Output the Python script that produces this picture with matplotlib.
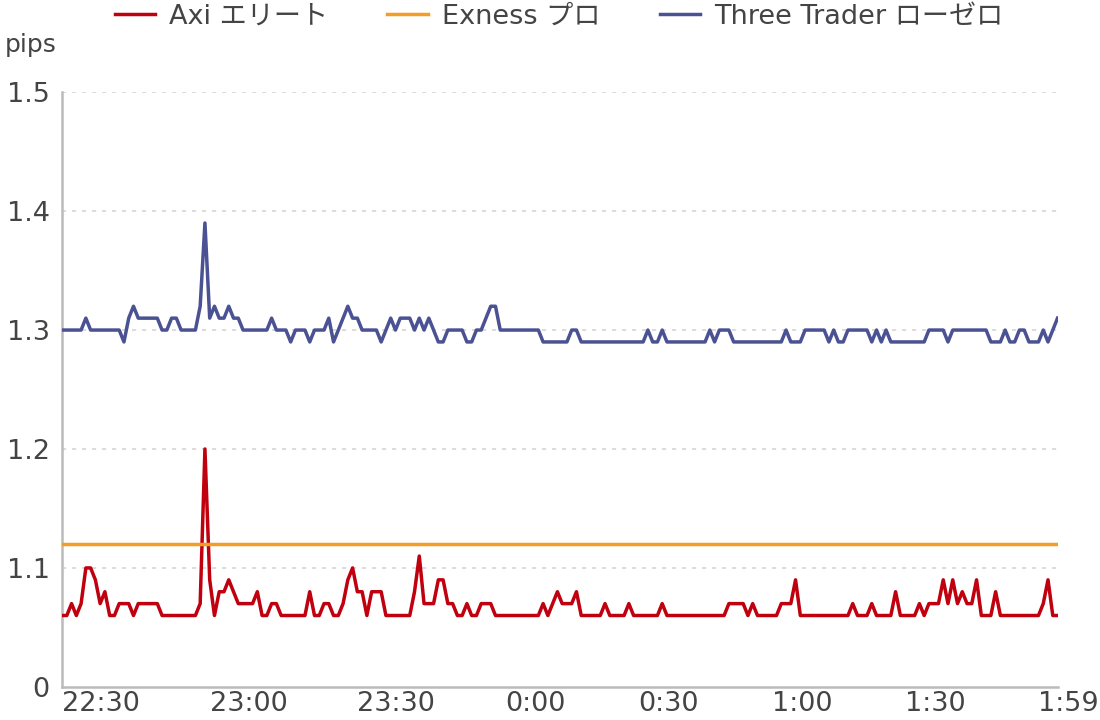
import numpy as np
import matplotlib.pyplot as plt

plt.rcParams['font.family'] = ['DejaVu Sans', 'Noto Sans CJK JP']

# one value per minute, 22:30 -> 1:59
axi = [1.06, 1.06, 1.07, 1.06, 1.07, 1.10, 1.10, 1.09, 1.07, 1.08,
       1.06, 1.06, 1.07, 1.07, 1.07, 1.06, 1.07, 1.07, 1.07, 1.07,
       1.07, 1.06, 1.06, 1.06, 1.06, 1.06, 1.06, 1.06, 1.06, 1.07,
       1.20, 1.09, 1.06, 1.08, 1.08, 1.09, 1.08, 1.07, 1.07, 1.07,
       1.07, 1.08, 1.06, 1.06, 1.07, 1.07, 1.06, 1.06, 1.06, 1.06,
       1.06, 1.06, 1.08, 1.06, 1.06, 1.07, 1.07, 1.06, 1.06, 1.07,
       1.09, 1.10, 1.08, 1.08, 1.06, 1.08, 1.08, 1.08, 1.06, 1.06,
       1.06, 1.06, 1.06, 1.06, 1.08, 1.11, 1.07, 1.07, 1.07, 1.09,
       1.09, 1.07, 1.07, 1.06, 1.06, 1.07, 1.06, 1.06, 1.07, 1.07,
       1.07, 1.06, 1.06, 1.06, 1.06, 1.06, 1.06, 1.06, 1.06, 1.06,
       1.06, 1.07, 1.06, 1.07, 1.08, 1.07, 1.07, 1.07, 1.08, 1.06,
       1.06, 1.06, 1.06, 1.06, 1.07, 1.06, 1.06, 1.06, 1.06, 1.07,
       1.06, 1.06, 1.06, 1.06, 1.06, 1.06, 1.07, 1.06, 1.06, 1.06,
       1.06, 1.06, 1.06, 1.06, 1.06, 1.06, 1.06, 1.06, 1.06, 1.06,
       1.07, 1.07, 1.07, 1.07, 1.06, 1.07, 1.06, 1.06, 1.06, 1.06,
       1.06, 1.07, 1.07, 1.07, 1.09, 1.06, 1.06, 1.06, 1.06, 1.06,
       1.06, 1.06, 1.06, 1.06, 1.06, 1.06, 1.07, 1.06, 1.06, 1.06,
       1.07, 1.06, 1.06, 1.06, 1.06, 1.08, 1.06, 1.06, 1.06, 1.06,
       1.07, 1.06, 1.07, 1.07, 1.07, 1.09, 1.07, 1.09, 1.07, 1.08,
       1.07, 1.07, 1.09, 1.06, 1.06, 1.06, 1.08, 1.06, 1.06, 1.06,
       1.06, 1.06, 1.06, 1.06, 1.06, 1.06, 1.07, 1.09, 1.06, 1.06]

three = [1.30, 1.30, 1.30, 1.30, 1.30, 1.31, 1.30, 1.30, 1.30, 1.30,
         1.30, 1.30, 1.30, 1.29, 1.31, 1.32, 1.31, 1.31, 1.31, 1.31,
         1.31, 1.30, 1.30, 1.31, 1.31, 1.30, 1.30, 1.30, 1.30, 1.32,
         1.39, 1.31, 1.32, 1.31, 1.31, 1.32, 1.31, 1.31, 1.30, 1.30,
         1.30, 1.30, 1.30, 1.30, 1.31, 1.30, 1.30, 1.30, 1.29, 1.30,
         1.30, 1.30, 1.29, 1.30, 1.30, 1.30, 1.31, 1.29, 1.30, 1.31,
         1.32, 1.31, 1.31, 1.30, 1.30, 1.30, 1.30, 1.29, 1.30, 1.31,
         1.30, 1.31, 1.31, 1.31, 1.30, 1.31, 1.30, 1.31, 1.30, 1.29,
         1.29, 1.30, 1.30, 1.30, 1.30, 1.29, 1.29, 1.30, 1.30, 1.31,
         1.32, 1.32, 1.30, 1.30, 1.30, 1.30, 1.30, 1.30, 1.30, 1.30,
         1.30, 1.29, 1.29, 1.29, 1.29, 1.29, 1.29, 1.30, 1.30, 1.29,
         1.29, 1.29, 1.29, 1.29, 1.29, 1.29, 1.29, 1.29, 1.29, 1.29,
         1.29, 1.29, 1.29, 1.30, 1.29, 1.29, 1.30, 1.29, 1.29, 1.29,
         1.29, 1.29, 1.29, 1.29, 1.29, 1.29, 1.30, 1.29, 1.30, 1.30,
         1.30, 1.29, 1.29, 1.29, 1.29, 1.29, 1.29, 1.29, 1.29, 1.29,
         1.29, 1.29, 1.30, 1.29, 1.29, 1.29, 1.30, 1.30, 1.30, 1.30,
         1.30, 1.29, 1.30, 1.29, 1.29, 1.30, 1.30, 1.30, 1.30, 1.30,
         1.29, 1.30, 1.29, 1.30, 1.29, 1.29, 1.29, 1.29, 1.29, 1.29,
         1.29, 1.29, 1.30, 1.30, 1.30, 1.30, 1.29, 1.30, 1.30, 1.30,
         1.30, 1.30, 1.30, 1.30, 1.30, 1.29, 1.29, 1.29, 1.30, 1.29,
         1.29, 1.30, 1.30, 1.29, 1.29, 1.29, 1.30, 1.29, 1.30, 1.31]

exness_value = 1.12
exness = [exness_value] * len(axi)

tick_labels = ['22:30', '23:00', '23:30', '0:00', '0:30', '1:00', '1:30', '1:59']
tick_idx = [0, 31, 62, 93, 121, 149, 177, 205]

y_ticks = [1.0, 1.1, 1.2, 1.3, 1.4, 1.5]
y_labels = ['0', '1.1', '1.2', '1.3', '1.4', '1.5']

x = np.arange(len(axi))

fig = plt.figure(figsize=(11, 7.2), dpi=100)
ax = fig.add_axes([0.0564, 0.046, 0.905, 0.826])

ax.plot(x, axi, color='#c0000f', lw=2.5, label='Axi エリート', zorder=3)
ax.plot(x, exness, color='#f39c26', lw=2.5, label='Exness プロ', zorder=3)
ax.plot(x, three, color='#4a5294', lw=2.5, label='Three Trader ローゼロ', zorder=3)

ax.set_xlim(0, len(axi) - 1)
ax.set_ylim(1.0, 1.5)
ax.set_yticks(y_ticks)
ax.set_yticklabels(y_labels)
ax.set_xticks(tick_idx)
ax.set_xticklabels(tick_labels, ha='left')
ax.tick_params(axis='both', length=0, labelsize=19.5, colors='#444444')
ax.tick_params(axis='y', pad=9)
ax.tick_params(axis='x', pad=3)

for v in y_ticks[1:]:
    ax.axhline(v, color='#d6d6d6', lw=1.2, ls=(0, (2.5, 3.5)), zorder=1)

for s in ['top', 'right']:
    ax.spines[s].set_visible(False)
for s in ['left', 'bottom']:
    ax.spines[s].set_color('#bbbbbb')
    ax.spines[s].set_linewidth(1.8)

fig.text(0.004, 0.937, 'pips', fontsize=18, color='#444444', ha='left', va='center')

fig.legend(loc='center', bbox_to_anchor=(0.508, 0.977), ncol=3, frameon=False,
           fontsize=19.5, handlelength=1.5, handletextpad=0.5, columnspacing=2.2,
           labelcolor='#444444')

fig.savefig('out.png', dpi=100)
